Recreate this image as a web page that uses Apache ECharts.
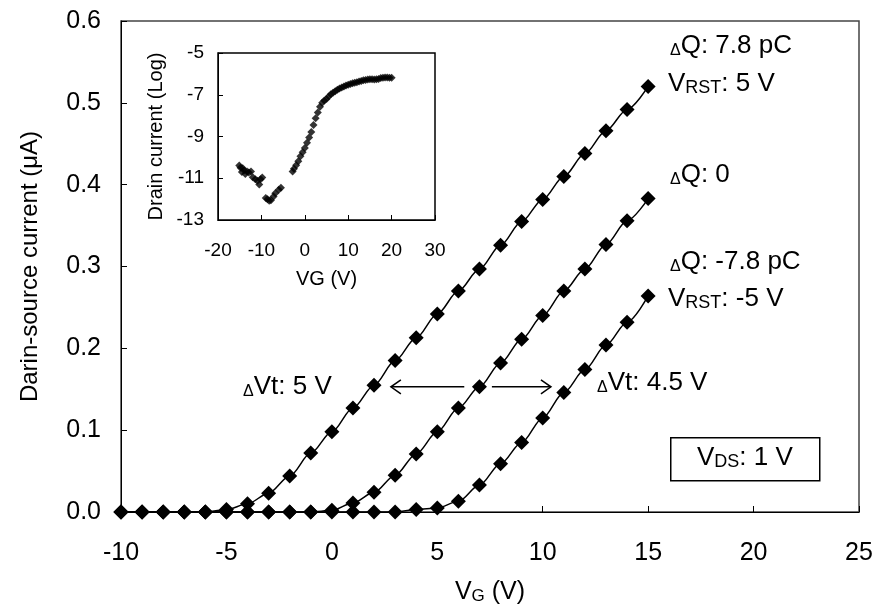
<!DOCTYPE html>
<html>
<head>
<meta charset="utf-8">
<script src="https://cdn.jsdelivr.net/npm/echarts@6/dist/echarts.min.js"></script>
<style>
html,body{margin:0;padding:0;background:#fff;}
#chart{width:878px;height:610px;}
</style>
</head>
<body>
<div id="chart"></div>
<script>
// ---- main chart data ----
const vg = [-10,-9,-8,-7,-6,-5,-4,-3,-2,-1,0,1,2,3,4,5,6,7,8,9,10,11,12,13,14,15];
const idsPos = [0,0,0,0,0,0.003,0.010,0.023,0.044,0.072,0.098,0.127,0.155,0.185,0.213,0.242,0.270,0.297,0.326,0.355,0.382,0.410,0.438,0.466,0.492,0.520];
const idsZero = [0,0,0,0,0,0,0,0,0,0,0.002,0.011,0.024,0.045,0.071,0.098,0.127,0.153,0.182,0.211,0.240,0.270,0.297,0.327,0.356,0.383];
const idsNeg = [0,0,0,0,0,0,0,0,0,0,0,0,0,0,0.003,0.005,0.013,0.033,0.059,0.085,0.115,0.146,0.174,0.204,0.232,0.264];
const xTicks = [-10,-5,0,5,10,15,20,25];
const yTicks = [0,0.1,0.2,0.3,0.4,0.5,0.6];
// arrows: [tail x, head x, y]
const arrows = [[6.28, 2.80, 0.153],[7.59, 10.39, 0.153]];

// ---- inset data (log drain current vs VG) ----
const insetVG = [-15.1,-14.8,-14.5,-14.3,-14.0,-13.7,-13.3,-12.9,-12.4,-12.0,-11.4,-10.9,-10.5,-10.2,-9.8,
  -9.0,-8.6,-8.2,-7.8,-7.2,-6.8,-6.0,-5.5,
  -2.8,-2.5,-2.0,-1.5,-1.0,-0.5,0,0.5,1.0,1.5,2.0,2.5,3.0,3.5,4.0,4.5,5.0,5.5,6.0,6.5,7.0,7.5,8.0,8.5,9.0,9.5,10.0,
  10.5,11.0,11.5,12.0,12.5,13.0,13.5,14.0,14.5,15.0,15.5,16.0,16.5,17.0,17.5,18.0,18.5,19.0,19.5,20.0];
const insetLog = [-10.39,-10.50,-10.70,-10.52,-10.62,-10.80,-10.68,-10.72,-10.68,-10.95,-11.05,-11.12,-11.30,-11.05,-10.97,
  -11.95,-12.00,-12.08,-12.05,-11.88,-11.72,-11.55,-11.45,
  -10.68,-10.55,-10.38,-10.18,-9.95,-9.76,-9.55,-9.30,-9.05,-8.78,-8.45,-8.12,-7.85,-7.58,-7.38,-7.27,-7.20,-7.08,-6.98,-6.90,-6.83,-6.76,-6.70,-6.65,-6.60,-6.56,-6.52,
  -6.48,-6.45,-6.42,-6.40,-6.36,-6.34,-6.31,-6.29,-6.27,-6.26,-6.26,-6.27,-6.26,-6.24,-6.20,-6.18,-6.17,-6.17,-6.18,-6.18];
const insetYTicks = [-13,-11,-9,-7,-5];

const FONT = '"Liberation Sans", Arial, sans-serif';
const pair = (xs, ys) => xs.map((x, i) => [x, ys[i]]);

const chart = echarts.init(document.getElementById('chart'), null, {renderer:'canvas'});

const lineSeries = (name, ys) => ({
  name, type:'line', xAxisIndex:0, yAxisIndex:0,
  data: pair(vg, ys), smooth:0.3, smoothMonotone:'x', clip:false,
  symbol:'diamond', symbolSize:15,
  lineStyle:{color:'#000', width:1.5},
  itemStyle:{color:'#000'}, z:3
});

const axisCommon = {
  axisLine:{show:true, onZero:false, lineStyle:{color:'#000', width:1}},
  axisTick:{show:true, inside:true, length:6, lineStyle:{color:'#000'}},
  splitLine:{show:false}
};

const ann = (left, top, text, rich) => ({type:'text', left, top, z:100,
  style:{text, rich, fill:'#000', font:'26px '+FONT}});
const richDefs = {
  n:{fontSize:26, fontFamily:FONT, lineHeight:30, verticalAlign:'bottom', color:'#000'},
  d:{fontSize:16, fontFamily:FONT, lineHeight:21, verticalAlign:'bottom', color:'#000'},
  s:{fontSize:18, fontFamily:FONT, lineHeight:10, verticalAlign:'bottom', color:'#000'}
};

const option = {
  backgroundColor:'#fff',
  animation:false,
  textStyle:{fontFamily:FONT, color:'#000'},
  grid:[
    {left:121, right:19, top:21, bottom:89.5, show:true, borderColor:'#444', borderWidth:1.5, backgroundColor:'transparent'},
    {left:218, right:443, top:53, bottom:390, show:true, borderColor:'#000', borderWidth:1.5, backgroundColor:'#fff', z:10}
  ],
  xAxis:[
    Object.assign({}, axisCommon, {
      type:'value', gridIndex:0, min:xTicks[0], max:xTicks[xTicks.length-1], interval:5,
      axisLabel:{fontSize:25, color:'#000', margin:29, fontFamily:FONT},
      name:'{v|V}{s|G}{v| (V)}', nameLocation:'middle', nameGap:65,
      nameTextStyle:{rich:{v:{fontSize:25, fontFamily:FONT, lineHeight:28, verticalAlign:'bottom'}, s:{fontSize:17, fontFamily:FONT, lineHeight:10, verticalAlign:'bottom'}}}
    }),
    Object.assign({}, axisCommon, {
      type:'value', gridIndex:1, min:-20, max:30, interval:10, z:11,
      axisTick:{show:true, inside:true, length:5, lineStyle:{color:'#000'}},
      axisLabel:{fontSize:19, color:'#000', margin:21, fontFamily:FONT},
      name:'VG (V)', nameLocation:'middle', nameGap:49,
      nameTextStyle:{fontSize:20, fontFamily:FONT, color:'#000'}
    })
  ],
  yAxis:[
    Object.assign({}, axisCommon, {
      type:'value', gridIndex:0, min:yTicks[0], max:yTicks[yTicks.length-1], interval:0.1,
      axisLabel:{fontSize:25, color:'#000', margin:20, fontFamily:FONT, formatter:v => v.toFixed(1)},
      name:'Darin-source current (μA)', nameLocation:'middle', nameGap:79, nameRotate:90,
      nameTextStyle:{fontSize:24, fontFamily:FONT, color:'#000'}
    }),
    Object.assign({}, axisCommon, {
      type:'value', gridIndex:1, min:insetYTicks[0], max:insetYTicks[insetYTicks.length-1], z:11,
      axisTick:{show:true, inside:true, length:5, customValues:insetYTicks, lineStyle:{color:'#000'}},
      axisLabel:{fontSize:19, color:'#000', margin:14, fontFamily:FONT, customValues:insetYTicks},
      name:'Drain current (Log)', nameLocation:'middle', nameGap:52, nameRotate:90,
      nameTextStyle:{fontSize:20, fontFamily:FONT, color:'#000'}
    })
  ],
  series:[
    lineSeries('ΔQ: 7.8 pC', idsPos),
    lineSeries('ΔQ: 0', idsZero),
    lineSeries('ΔQ: -7.8 pC', idsNeg),
    {
      type:'custom', xAxisIndex:0, yAxisIndex:0, z:4,
      data: arrows, encode:{x:[0,1], y:2},
      renderItem:(params, api) => {
        const p1 = api.coord([api.value(0), api.value(2)]);
        const p2 = api.coord([api.value(1), api.value(2)]);
        const dir = p2[0] > p1[0] ? 1 : -1;
        const st = {stroke:'#000', lineWidth:1.5, fill:null};
        return {type:'group', children:[
          {type:'line', shape:{x1:p1[0], y1:p1[1], x2:p2[0], y2:p2[1]}, style:st},
          {type:'polyline', shape:{points:[[p2[0]-dir*10, p2[1]-7],[p2[0], p2[1]],[p2[0]-dir*10, p2[1]+7]]}, style:st}
        ]};
      }
    },
    {
      type:'scatter', xAxisIndex:1, yAxisIndex:1, z:12,
      data: pair(insetVG, insetLog), symbol:'diamond', symbolSize:8,
      itemStyle:{color:'#000'}
    }
  ],
  graphic:[
    ann(670, 33, '{d|Δ}{n|Q: 7.8 pC}', richDefs),
    ann(668, 71, '{n|V}{s|RST}{n|: 5 V}', richDefs),
    ann(670, 162, '{d|Δ}{n|Q: 0}', richDefs),
    ann(670, 249, '{d|Δ}{n|Q: -7.8 pC}', richDefs),
    ann(668, 286, '{n|V}{s|RST}{n|: -5 V}', richDefs),
    ann(243, 374, '{d|Δ}{n|Vt: 5 V}', richDefs),
    ann(597, 370, '{d|Δ}{n|Vt: 4.5 V}', richDefs),
    {type:'rect', left:670, top:437, shape:{width:149, height:43}, style:{fill:'#fff', stroke:'#000', lineWidth:1.5}, z:99},
    ann(697, 445, '{n|V}{s|DS}{n|: 1 V}', richDefs)
  ]
};
chart.setOption(option);
</script>
</body>
</html>
